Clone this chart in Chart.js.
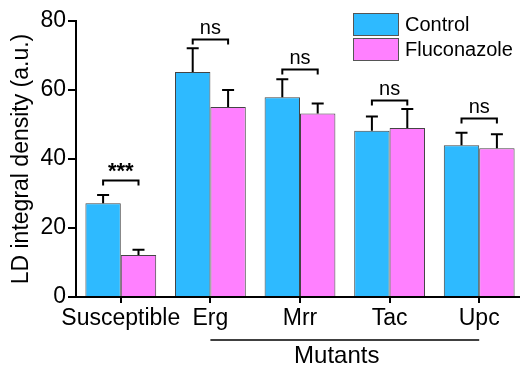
<!DOCTYPE html>
<html>
<head>
<meta charset="utf-8">
<script src="https://cdn.jsdelivr.net/npm/chart.js@4"></script>
<style>
html, body { margin: 0; padding: 0; overflow: hidden; background: #fff; }
#wrap { width: 520px; height: 368px; overflow: hidden; }
</style>
</head>
<body>
<div id="wrap"><canvas id="ldChart" width="524" height="368"></canvas></div>
<script>
// values
const groups = ['Susceptible', 'Erg', 'Mrr', 'Tac', 'Upc'];
const controlVals = [27.2, 65.2, 57.9, 48.2, 44.0];
const controlErr = [2.4, 6.9, 5.2, 4.1, 3.6];
const flucVals = [12.2, 55.1, 53.2, 49.0, 43.1];
const flucErr = [1.5, 4.9, 2.9, 5.5, 4.1];
const sigText = ['***', 'ns', 'ns', 'ns', 'ns'];
const sigLevel = [34, 74.8, 66.1, 57.1, 51.9];
const yTicks = [0, 20, 40, 60, 80];

const FONT = '"Liberation Sans", Arial, sans-serif';
const ctrlColor = 'rgb(46,186,255)';
const flucColor = 'rgb(255,128,255)';

Chart.defaults.font.family = FONT;
Chart.defaults.color = '#000';

const errs = [controlErr, flucErr];
const vals = [controlVals, flucVals];

const extras = {
    id: 'extras',
    afterDatasetsDraw(chart) {
        const ctx = chart.ctx;
        const y = chart.scales.y;
        ctx.save();
        ctx.strokeStyle = '#000';
        ctx.lineWidth = 2;
        for (let d = 0; d < 2; d++) {
            chart.getDatasetMeta(d).data.forEach((bar, j) => {
                const top = y.getPixelForValue(vals[d][j] + errs[d][j]);
                ctx.beginPath();
                ctx.moveTo(bar.x, bar.y);
                ctx.lineTo(bar.x, top);
                ctx.moveTo(bar.x - 6, top);
                ctx.lineTo(bar.x + 6, top);
                ctx.stroke();
            });
        }
        ctx.restore();
    },
    afterDraw(chart) {
        const ctx = chart.ctx;
        const x = chart.scales.x;
        const y = chart.scales.y;
        const m0 = chart.getDatasetMeta(0).data;
        const m1 = chart.getDatasetMeta(1).data;
        ctx.save();
        ctx.strokeStyle = '#000';
        ctx.fillStyle = '#000';
        ctx.lineWidth = 2;
        // significance brackets
        groups.forEach((g, j) => {
            const by = Math.round(y.getPixelForValue(sigLevel[j])) + 0.5;
            const x1 = m0[j].x, x2 = m1[j].x;
            ctx.beginPath();
            ctx.moveTo(x1, by + 5);
            ctx.lineTo(x1, by);
            ctx.lineTo(x2, by);
            ctx.lineTo(x2, by + 5);
            ctx.stroke();
            ctx.textAlign = 'center';
            ctx.textBaseline = 'alphabetic';
            if (sigText[j] === '***') {
                ctx.font = 'bold 22px ' + FONT;
                ctx.fillText(sigText[j], (x1 + x2) / 2, by - 3);
            } else {
                ctx.font = '20px ' + FONT;
                ctx.fillText(sigText[j], (x1 + x2) / 2, by - 6);
            }
        });
        // legend
        const items = [['Control', ctrlColor], ['Fluconazole', flucColor]];
        ctx.lineWidth = 1;
        items.forEach((it, k) => {
            const ty = 13 + k * 25;
            ctx.fillStyle = it[1];
            ctx.fillRect(353, ty, 45, 22);
            ctx.strokeStyle = '#555';
            ctx.strokeRect(353.5, ty + 0.5, 45, 22);
            ctx.fillStyle = '#000';
            ctx.font = '20px ' + FONT;
            ctx.textAlign = 'left';
            ctx.textBaseline = 'middle';
            ctx.fillText(it[0], 405, ty + 12);
        });
        // mutants group line
        const xa = x.getPixelForValue(1), xb = x.getPixelForValue(4);
        ctx.strokeStyle = '#000';
        ctx.lineWidth = 1.5;
        ctx.beginPath();
        ctx.moveTo(xa, 340);
        ctx.lineTo(xb, 340);
        ctx.stroke();
        ctx.font = '24px ' + FONT;
        ctx.textAlign = 'center';
        ctx.textBaseline = 'middle';
        ctx.fillText('Mutants', (xa + xb) / 2 - 8, 356);
        ctx.restore();
    }
};

new Chart(document.getElementById('ldChart'), {
    type: 'bar',
    data: {
        labels: groups,
        datasets: [{
            label: 'Control',
            data: controlVals,
            backgroundColor: ctrlColor,
            borderColor: '#444',
            borderWidth: 1,
        }, {
            label: 'Fluconazole',
            data: flucVals,
            backgroundColor: flucColor,
            borderColor: '#444',
            borderWidth: 1,
        }],
    },
    options: {
        responsive: false,
        animation: false,
        devicePixelRatio: 1,
        layout: { padding: { top: 21, left: 0, right: 0, bottom: 0 } },
        datasets: {
            bar: { categoryPercentage: 0.79, barPercentage: 1 }
        },
        plugins: {
            legend: { display: false },
            tooltip: { enabled: false },
        },
        scales: {
            x: {
                afterFit: (s) => { s.height = 71; },
                grid: { drawOnChartArea: false, offset: false, tickLength: 6, color: '#000', lineWidth: 2 },
                border: { display: true, color: '#000', width: 2 },
                ticks: { font: { size: 23 }, color: '#000', padding: 2, maxRotation: 0, autoSkip: false },
            },
            y: {
                min: 0,
                max: 80,
                afterFit: (s) => { s.width = 76; },
                afterBuildTicks: (s) => { s.ticks = yTicks.map(v => ({ value: v })); },
                grid: { drawOnChartArea: false, tickLength: 8, color: '#000', lineWidth: 2 },
                border: { display: true, color: '#000', width: 2 },
                ticks: { font: { size: 23 }, color: '#000', padding: 2 },
                title: {
                    display: true,
                    text: 'LD integral density (a.u.)',
                    font: { size: 23 },
                    color: '#000',
                    padding: { top: 8, bottom: 0 },
                },
            },
        },
    },
    plugins: [extras],
});
</script>
</body>
</html>
